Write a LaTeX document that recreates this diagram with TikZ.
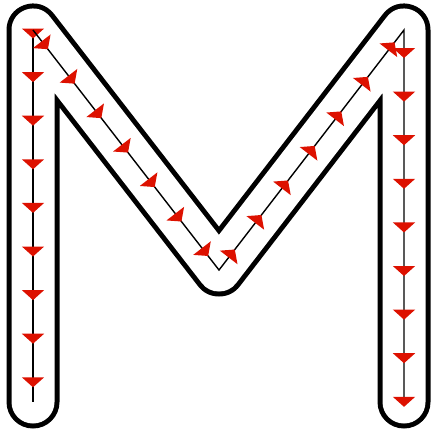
\documentclass[tikz,border=0pt]{standalone}
\usetikzlibrary{arrows.meta,decorations.markings}
\definecolor{markred}{RGB}{221,17,0}
\newcommand{\strokearrow}{\pgftransformxshift{5pt}\arrow[markred]{Triangle[width=22pt,length=10pt]}}

\begin{document}
\begin{tikzpicture}[x=1pt, y=-1pt,
    rim/.style={line width=53pt, line cap=round, line join=round},
    trace/.style={line width=1.4pt, postaction={decorate}}]
  \useasboundingbox (0,0) rectangle (435,432);

  \coordinate (tl) at (33,30);
  \coordinate (bl) at (33,402);
  \coordinate (v)  at (219,270);
  \coordinate (tr) at (404,30);
  \coordinate (br) at (404,402);

  % letter outline
  \draw[rim, black] (bl) -- (tl) -- (v) -- (tr) -- (br);
  \draw[rim, white, line width=43pt] (bl) -- (tl) -- (v) -- (tr) -- (br);

  % first stroke, then second stroke
  \draw[trace, decoration={markings, mark=between positions 3.5pt and 1 step 43.6pt with {\strokearrow}}] (tl) -- (bl);
  \draw[trace, decoration={markings, mark=between positions 19.3pt and 1 step 43.6pt with {\strokearrow}}] (tl) -- (v) -- (tr) -- (br);
\end{tikzpicture}
\end{document}
